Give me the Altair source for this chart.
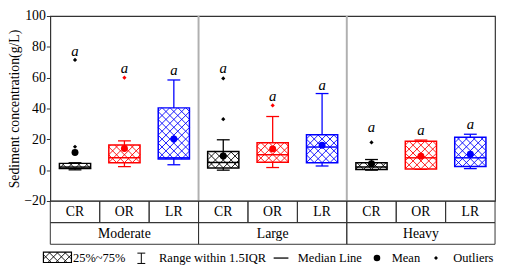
import altair as alt
import pandas as pd

# ---------------- data ----------------
groups = ["Moderate", "Large", "Heavy"]
types = ["CR", "OR", "LR"]
type_colors = ["#000000", "#ff0000", "#0000ff"]

q1 = [1.0, 4.8, 7.3, 1.4, 5.2, 4.8, 0.4, 0.8, 2.3]
q3 = [4.4, 16.3, 40.4, 12.1, 17.8, 23.0, 4.8, 18.8, 21.4]
median = [2.0, 8.0, 8.0, 5.0, 10.0, 15.0, 2.0, 8.0, 8.0]
w_lo = [0.2, 2.3, 3.5, 0.0, 1.7, 2.7, 0.0, 0.5, 1.0]
w_hi = [4.8, 19.0, 58.5, 19.7, 34.8, 49.7, 6.9, 19.5, 23.3]
mean = [11.5, 14.0, 20.2, 9.2, 13.8, 16.2, 4.2, 9.0, 10.3]
outliers = [[15.2, 71.5], [60.0], [], [33.1, 59.5], [42.0], [], [18.0], [], []]
sig_y = [77.5, 66.0, 65.0, 66.0, 48.0, 55.0, 27.7, 26.0, 29.8]
sig_text = ["a"] * 9

y_ticks = [-20, 0, 20, 40, 60, 80, 100]
legend_labels = ["25%~75%", "Range within 1.5IQR", "Median Line", "Mean", "Outliers"]

# ---------------- layout ----------------
TOP = 14          # page y of the plot top (value 100)
BOTTOM = 202      # page y of the plot bottom (value -20)
W, H = 452, BOTTOM - TOP
PX_X = W / 9.0
PX_Y = H / 120.0
BOX_HALF = 0.316
CAP_HALF = 0.13
HATCH = 8.0
FONT = "Liberation Serif, DejaVu Serif, Times New Roman, serif"


def px2x(px):
    return (px - 51) / PX_X


def py2y(py):
    return (BOTTOM - py) / PX_Y - 20


n = len(q1)
cells = []
for i in range(n):
    g = groups[i // 3]
    t = types[i % 3]
    c = i + 0.5
    cells.append(dict(idx=i, group=g, type=t, color=type_colors[i % 3], xc=c,
                      xl=c - BOX_HALF, xr=c + BOX_HALF, cl=c - CAP_HALF, cr=c + CAP_HALF,
                      q1=q1[i], q3=q3[i], med=median[i], lo=w_lo[i], hi=w_hi[i],
                      mean=mean[i], sig=sig_text[i], sy=sig_y[i]))
df = pd.DataFrame(cells)

out_rows = []
for i in range(n):
    for v in outliers[i]:
        out_rows.append(dict(xc=i + 0.5, v=v, color=type_colors[i % 3]))
df_out = pd.DataFrame(out_rows)


def hatch(xl, xr, y0, y1, color):
    Wp = (xr - xl) * PX_X
    Hp = (y1 - y0) * PX_Y
    segs = []
    k = -Wp
    while k < Hp:
        us, ue = max(0.0, -k), min(Wp, Hp - k)
        if ue > us:
            segs.append((us, us + k, ue, ue + k))
        k += HATCH
    k = 0.0
    while k < Wp + Hp:
        us, ue = max(0.0, k - Hp), min(Wp, k)
        if ue > us:
            segs.append((us, k - us, ue, k - ue))
        k += HATCH
    rows = []
    for a, b, c, d in segs:
        rows.append(dict(x=xl + a / PX_X, y=y0 + b / PX_Y,
                         x2=xl + c / PX_X, y2=y0 + d / PX_Y, color=color))
    return rows


h_rows = []
for r in cells:
    h_rows += hatch(r["xl"], r["xr"], r["q1"], r["q3"], r["color"])
# legend swatch
sw = dict(xl=px2x(44), xr=px2x(72.5), y0=py2y(264.5), y1=py2y(254))
h_rows += hatch(sw["xl"], sw["xr"], sw["y0"], sw["y1"], "#000000")
df_h = pd.DataFrame(h_rows)

xs = alt.Scale(domain=[0, 9], nice=False, zero=False)
ys = alt.Scale(domain=[-20, 100], nice=False, zero=False)
yaxis = alt.Axis(values=y_ticks, grid=False, domain=False, tickSize=4, tickColor="#333",
                 labelFont=FONT, labelFontSize=14, labelColor="black", labelPadding=1,
                 title="Sediment concentration(g/L)", titleFont=FONT, titleFontSize=14,
                 titleFontWeight="normal", titleColor="black", titleX=-36, titleY=H / 2,
                 titleAngle=270, titleAlign="center", titleBaseline="middle")


def X(f):
    return alt.X(f, type="quantitative", scale=xs, axis=None)


def Y(f):
    return alt.Y(f, type="quantitative", scale=ys, axis=yaxis)


base = alt.Chart(df)

whisk = base.mark_rule(strokeWidth=1.3).encode(x=X("xc"), y=Y("lo"), y2="hi",
                                                color=alt.Color("color:N", scale=None))
caps_lo = base.mark_rule(strokeWidth=1.3).encode(x=X("cl"), x2="cr", y=Y("lo"),
                                                  color=alt.Color("color:N", scale=None))
caps_hi = base.mark_rule(strokeWidth=1.3).encode(x=X("cl"), x2="cr", y=Y("hi"),
                                                  color=alt.Color("color:N", scale=None))
box_fill = base.mark_rect(fill="white").encode(x=X("xl"), x2="xr", y=Y("q1"), y2="q3")
hatch_l = alt.Chart(df_h).mark_rule(strokeWidth=0.9).encode(
    x=X("x"), x2="x2", y=Y("y"), y2="y2", color=alt.Color("color:N", scale=None))
box_line = base.mark_rect(fill=None, strokeWidth=1.5).encode(
    x=X("xl"), x2="xr", y=Y("q1"), y2="q3", stroke=alt.Stroke("color:N", scale=None))
med = base.mark_rule(strokeWidth=1.5).encode(x=X("xl"), x2="xr", y=Y("med"),
                                              color=alt.Color("color:N", scale=None))
mean_pt = base.mark_circle(size=50, opacity=1).encode(x=X("xc"), y=Y("mean"),
                                                       color=alt.Color("color:N", scale=None))
out_pt = alt.Chart(df_out).mark_point(shape="diamond", filled=True, size=18, opacity=1).encode(
    x=X("xc"), y=Y("v"), color=alt.Color("color:N", scale=None))
sig_lbl = base.mark_text(font=FONT, fontSize=15, fontStyle="italic", color="black",
                         baseline="middle").encode(x=X("xc"), y=Y("sy"), text="sig")

# group separators
sep_df = pd.DataFrame({"x": [3, 6], "y0": [-20, -20], "y1": [100, 100]})
sep = alt.Chart(sep_df).mark_rule(color="#b0b0b0", strokeWidth=2).encode(
    x=X("x"), y=Y("y0"), y2="y1")

# table under the plot
r1_top, r1_bot, r2_bot = -20, py2y(224), py2y(246)
t1 = pd.DataFrame([dict(x0=i, x1=i + 1, y0=r1_bot, y1=r1_top, xm=i + 0.5,
                        ym=py2y(213), lab=types[i % 3]) for i in range(9)])
t2 = pd.DataFrame([dict(x0=3 * g, x1=3 * g + 3, y0=r2_bot, y1=r1_bot, xm=3 * g + 1.5,
                        ym=py2y(235.5), lab=groups[g]) for g in range(3)])
tab_cells = alt.Chart(pd.concat([t1, t2])).mark_rect(fill=None, stroke="#333", strokeWidth=1).encode(
    x=X("x0"), x2="x1", y=Y("y0"), y2="y1")
tab_text = alt.Chart(pd.concat([t1, t2])).mark_text(font=FONT, fontSize=14, color="black",
                                                    baseline="middle").encode(
    x=X("xm"), y=Y("ym"), text="lab")

# legend
ly = py2y(260)
sw_df = pd.DataFrame([dict(x0=sw["xl"], x1=sw["xr"], y0=sw["y0"], y1=sw["y1"])])
leg_sw = alt.Chart(sw_df).mark_rect(fill=None, stroke="#000", strokeWidth=1.2).encode(
    x=X("x0"), x2="x1", y=Y("y0"), y2="y1")
leg_txt_df = pd.DataFrame({"x": [px2x(74), px2x(161.5), px2x(302.5), px2x(398), px2x(460.5)],
                           "y": [ly] * 5, "t": legend_labels})
leg_txt = alt.Chart(leg_txt_df).mark_text(font=FONT, fontSize=12.7, color="black", align="left",
                                          baseline="middle").encode(x=X("x"), y=Y("y"), text="t")
wk_df = pd.DataFrame([dict(x=px2x(143.5), y0=py2y(265.5), y1=py2y(255),
                           c0=px2x(139.5), c1=px2x(147.5))])
leg_wk = alt.Chart(wk_df).mark_rule(color="black", strokeWidth=1).encode(x=X("x"), y=Y("y0"), y2="y1")
leg_wk_c0 = alt.Chart(wk_df).mark_rule(color="black", strokeWidth=1).encode(x=X("c0"), x2="c1", y=Y("y0"))
leg_wk_c1 = alt.Chart(wk_df).mark_rule(color="black", strokeWidth=1).encode(x=X("c0"), x2="c1", y=Y("y1"))
ml_df = pd.DataFrame([dict(x0=px2x(278), x1=px2x(293), y=ly)])
leg_ml = alt.Chart(ml_df).mark_rule(color="black", strokeWidth=1.3).encode(x=X("x0"), x2="x1", y=Y("y"))
mp_df = pd.DataFrame([dict(x=px2x(383), y=ly)])
leg_mean = alt.Chart(mp_df).mark_circle(size=45, color="black", opacity=1).encode(x=X("x"), y=Y("y"))
op_df = pd.DataFrame([dict(x=px2x(443), y=ly)])
leg_out = alt.Chart(op_df).mark_point(shape="diamond", filled=True, size=16, color="black",
                                      opacity=1).encode(x=X("x"), y=Y("y"))

chart = alt.layer(
    sep, whisk, caps_lo, caps_hi, box_fill, hatch_l, box_line, med, mean_pt, out_pt, sig_lbl,
    tab_cells, tab_text, leg_sw, leg_txt, leg_wk, leg_wk_c0, leg_wk_c1, leg_ml, leg_mean, leg_out,
).properties(
    width=W, height=H,
    autosize=alt.AutoSizeParams(type="none"),
    padding={"left": 43, "top": TOP - 8, "right": 2, "bottom": 262 - (TOP - 8) - H},
).configure_view(stroke="#333", strokeWidth=1.2)

chart.save("out.html", embed_options={"renderer": "svg", "actions": False})
